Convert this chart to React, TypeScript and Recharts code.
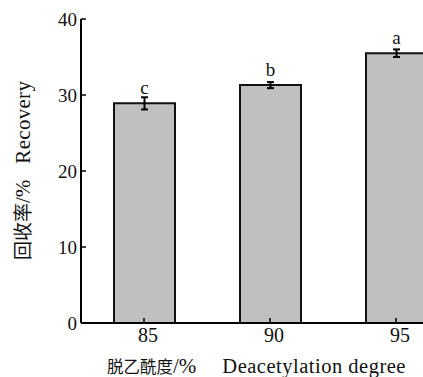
import React from 'react';
import { BarChart, Bar, XAxis, YAxis, ErrorBar, LabelList } from 'recharts';

const categories = ['85', '90', '95'];
const recovery = [28.9, 31.3, 35.5];
const errors = [0.8, 0.4, 0.5];
const letters = ['c', 'b', 'a'];
const yTicks = [0, 10, 20, 30, 40];

const data = categories.map((c, i) => ({
  cat: c,
  value: recovery[i],
  err: errors[i],
  sig: letters[i],
}));

const SERIF = '"Liberation Serif", "DejaVu Serif", serif';
const CJK = '"Noto Sans CJK SC", sans-serif';

const XTick = (props: any) => {
  const { x, y, payload } = props;
  return (
    <text x={x + 4} y={y} dy="0.71em" textAnchor="middle" style={{ fontFamily: SERIF, fontSize: 20 }} fill="#111">
      {payload.value}
    </text>
  );
};

const YTick = (props: any) => {
  const { x, y, payload } = props;
  return (
    <text x={x} y={y} dy="0.355em" textAnchor="end" style={{ fontFamily: SERIF, fontSize: 19 }} fill="#111">
      {payload.value}
    </text>
  );
};

const XLabel = () => (
  <text x={107} y={372.5} fill="#111" textAnchor="start">
    <tspan style={{ fontFamily: CJK, fontSize: 16.5 }}>脱乙酰度</tspan>
    <tspan style={{ fontFamily: SERIF, fontSize: 21 }}>/%</tspan>
    <tspan style={{ fontFamily: SERIF, fontSize: 20.5, letterSpacing: 0.5 }} dx={26}>Deacetylation degree</tspan>
  </text>
);

const YLabel = () => (
  <text x={30} y={260} fill="#111" textAnchor="start" transform="rotate(-90, 30, 260)">
    <tspan style={{ fontFamily: CJK, fontSize: 19 }}>回收率</tspan>
    <tspan style={{ fontFamily: SERIF, fontSize: 21 }}>/%</tspan>
    <tspan style={{ fontFamily: SERIF, fontSize: 21, letterSpacing: 0.3 }} dx={16}>Recovery</tspan>
  </text>
);

const SigLabel = (props: any) => {
  const { x, y, width, value } = props;
  return (
    <text x={x + width / 2} y={y - 9.5} textAnchor="middle" style={{ fontFamily: SERIF, fontSize: 19 }} fill="#111">
      {value}
    </text>
  );
};

export default function App() {
  return (
    <div style={{ position: 'fixed', left: 0, top: 0, width: 423, height: 377, overflow: 'hidden', background: '#fff', fontFamily: SERIF }}>
      <BarChart
        width={470}
        height={377}
        data={data}
        margin={{ top: 19, right: 11, bottom: 0, left: 0 }}
      >
        <XAxis
          dataKey="cat"
          height={54}
          tickSize={-5}
          tickMargin={10}
          tick={<XTick />}
          axisLine={{ stroke: '#000', strokeWidth: 2 }}
          tickLine={{ stroke: '#000', strokeWidth: 1.5 }}
          label={{ content: <XLabel /> }}
        />
        <YAxis
          width={81}
          domain={[0, 40]}
          ticks={yTicks}
          tickSize={-5}
          tickMargin={9}
          tick={<YTick />}
          axisLine={{ stroke: '#000', strokeWidth: 2 }}
          tickLine={{ stroke: '#000', strokeWidth: 1.5 }}
          label={{ content: <YLabel /> }}
        />
        <Bar dataKey="value" barSize={61} fill="#c0c0c0" stroke="#111" strokeWidth={2} isAnimationActive={false}>
          <ErrorBar dataKey="err" width={3.5} stroke="#000" strokeWidth={2} />
          <LabelList dataKey="sig" content={<SigLabel />} />
        </Bar>
      </BarChart>
    </div>
  );
}
